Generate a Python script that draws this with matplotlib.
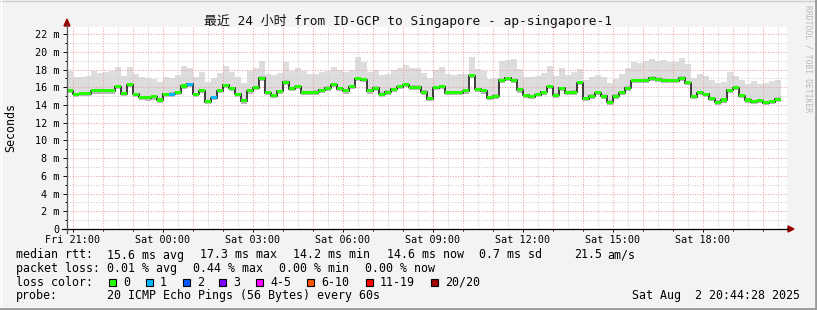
import numpy as np
import matplotlib
matplotlib.use("Agg")
import matplotlib.pyplot as plt
from matplotlib.lines import Line2D
from matplotlib.patches import Polygon, Rectangle

# median rtt per 12 min step (ms)
median = [15.61, 15.20, 15.27, 15.27, 15.58, 15.58, 15.58, 15.58, 16.06, 15.27,
          16.29, 15.20, 14.86, 14.79, 14.90, 14.56, 15.20, 15.23, 15.38, 16.14,
          16.33, 15.20, 15.61, 14.37, 14.83, 15.61, 16.21, 15.87, 15.20, 14.45,
          15.58, 15.95, 17.04, 15.38, 15.05, 15.54, 16.59, 15.84, 16.06, 15.38,
          15.38, 15.46, 15.65, 15.91, 16.29, 15.84, 15.58, 16.06, 16.96, 16.85,
          15.58, 15.91, 15.23, 15.46, 15.76, 16.06, 16.29, 16.02, 16.02, 15.46,
          14.71, 15.95, 16.06, 15.38, 15.38, 15.38, 15.58, 17.30, 15.76, 15.58,
          14.83, 15.00, 16.81, 17.00, 16.81, 15.69, 15.08, 14.93, 15.16, 15.42,
          16.06, 15.12, 15.87, 15.38, 15.46, 16.51, 14.71, 15.00, 15.38, 15.00,
          14.33, 15.00, 15.38, 15.91, 16.74, 16.74, 16.81, 17.04, 16.92, 16.81,
          16.74, 16.74, 17.04, 16.51, 14.93, 15.38, 15.20, 14.71, 14.33, 14.56,
          15.65, 15.95, 15.05, 14.56, 14.37, 14.48, 14.26, 14.37, 14.65]

# top of the smoke (slowest ping) per step (ms)
smoke_top = [17.87, 17.20, 17.20, 17.27, 17.83, 17.57, 17.68, 17.87, 18.32, 17.27,
             18.32, 17.50, 17.12, 17.00, 16.94, 16.64, 17.20, 17.00, 17.38, 18.43,
             18.20, 17.20, 17.72, 16.64, 17.00, 17.57, 18.39, 17.72, 17.20, 16.53,
             17.83, 18.13, 18.96, 17.50, 17.38, 17.57, 18.85, 17.87, 18.17, 17.80,
             17.50, 17.50, 17.72, 17.87, 18.24, 17.94, 17.72, 17.94, 19.37, 18.88,
             17.72, 17.94, 17.35, 17.46, 17.94, 18.13, 18.51, 18.13, 18.13, 17.57,
             17.00, 17.94, 18.24, 17.50, 17.38, 17.50, 17.50, 19.45, 18.02, 17.87,
             16.90, 17.00, 18.96, 19.07, 19.18, 18.02, 17.20, 17.20, 17.27, 17.57,
             18.39, 17.27, 18.13, 17.38, 17.72, 18.02, 16.81, 17.12, 17.38, 17.20,
             16.53, 16.90, 17.50, 18.13, 18.85, 18.77, 19.00, 19.15, 19.00, 19.07,
             18.88, 18.88, 19.26, 18.62, 17.00, 17.50, 17.27, 16.81, 16.53, 16.60,
             17.75, 17.27, 16.81, 16.36, 16.70, 16.36, 16.53, 16.74, 16.81]

# loss colour class per step (0 = no loss, 1 = 1/20 lost)
loss_class = [0, 0, 0, 0, 0, 0, 0, 0, 0, 0,
              0, 0, 0, 0, 0, 0, 0, 1, 0, 0,
              1, 0, 0, 0, 1, 0, 0, 0, 0, 0,
              0, 0, 0, 0, 0, 0, 0, 0, 0, 0,
              0, 0, 0, 0, 0, 0, 0, 0, 0, 0,
              0, 0, 0, 0, 0, 0, 0, 0, 0, 0,
              0, 0, 0, 0, 0, 0, 0, 0, 0, 0,
              0, 0, 0, 0, 0, 0, 0, 0, 0, 0,
              0, 0, 0, 0, 0, 0, 0, 0, 0, 0,
              0, 0, 0, 0, 0, 0, 0, 0, 0, 0,
              0, 0, 0, 0, 0, 0, 0, 0, 0, 0,
              0, 0, 0, 0, 0, 0, 0, 0, 0]

loss_labels = ["0", "1", "2", "3", "4-5", "6-10", "11-19", "20/20"]
loss_colors = ["#26ff00", "#00b8ff", "#0059ff", "#7e00ff",
               "#ff00ff", "#ff5500", "#ff0000", "#a10000"]

xtick_hours = [0, 3, 6, 9, 12, 15, 18, 21]
xtick_labels = ["Fri 21:00", "Sat 00:00", "Sat 03:00", "Sat 06:00",
                "Sat 09:00", "Sat 12:00", "Sat 15:00", "Sat 18:00"]
ytick_values = [0, 2, 4, 6, 8, 10, 12, 14, 16, 18, 20, 22]
ytick_labels = ["0"] + ["%d m" % v for v in ytick_values[1:]]

title = "最近 24 小时 from ID-GCP to Singapore - ap-singapore-1"
rtt_stats = ["15.6 ms avg", "17.3 ms max", "14.2 ms min", "14.6 ms now",
             "0.7 ms sd", "21.5", "am/s"]
loss_stats = ["0.01 % avg", "0.44 % max", "0.00 % min", "0.00 % now"]
probe_text = "20 ICMP Echo Pings (56 Bytes) every 60s"
stamp_text = "Sat Aug  2 20:44:28 2025"

W, H = 817, 310
MONO = ["DejaVu Sans Mono", "Noto Sans CJK SC"]
plt.rcParams["font.family"] = MONO


def fx(px):
    return px / W


def fy(py):
    return 1 - py / H


fig = plt.figure(figsize=(W / 100, H / 100), dpi=100, facecolor="#f3f3f3")
ax = fig.add_axes([fx(67), 81 / H, 720 / W, 202 / H])
ax.set_facecolor("white")
for s in ax.spines.values():
    s.set_visible(False)

step = 0.2  # 12 minutes in hours
n = len(median)
edges = -0.2 + step * np.arange(n + 1)
centers = edges[:-1] + step / 2
med = np.array(median)

ax.set_xlim(-0.2, 23.8)
ax.set_ylim(0, 22.8)

# smoke
ax.stairs(smoke_top, edges, baseline=med, fill=True, color="#dddddd", lw=0, zorder=1)
ax.stairs(med + 0.2, edges, baseline=med - 0.3, fill=True, color="#b8b8b8", lw=0, zorder=1.2)

# grid (hourly red, half hour grey; 2 ms red, 1 ms grey)
for h in np.arange(0, 24, 1):
    ax.axvline(h, color="#f0a0a0", lw=0.75, ls=(0, (1, 1.5)), zorder=1.5)
    ax.axvline(h + 0.5, color="#cfcfcf", lw=0.75, ls=(0, (1, 1.5)), zorder=1.4)
for v in np.arange(1, 23, 1):
    c = "#f0a0a0" if v % 2 == 0 else "#cfcfcf"
    ax.axhline(v, color=c, lw=0.75, ls=(0, (1, 1.5)), zorder=1.5 if v % 2 == 0 else 1.4)

# median line and loss-coloured bars
ax.stairs(med, edges, baseline=None, color="#202020", lw=1.2, zorder=3)
bar_colors = [loss_colors[k] for k in loss_class]
ax.bar(centers, 0.34, bottom=med - 0.17, width=step, color=bar_colors, lw=0, zorder=4)

ax.set_xticks(xtick_hours)
ax.set_xticklabels(xtick_labels, fontsize=7.3)
ax.set_xticks(np.arange(0, 24, 1), minor=True)
ax.set_yticks(ytick_values)
ax.set_yticklabels(ytick_labels, fontsize=7.3)
ax.set_yticks(np.arange(1, 23, 2), minor=True)
ax.tick_params(axis="x", which="major", length=2.5, width=0.7, pad=1.5, color="black")
ax.tick_params(axis="x", which="minor", length=1.5, width=0.7, color="black")
ax.tick_params(axis="y", which="major", length=3, width=0.7, pad=2.5, color="black")
ax.tick_params(axis="y", which="minor", length=1.5, width=0.7, color="black")

# axis lines with arrows
arrow_c = "#990000"
fig.add_artist(Line2D([fx(62), fx(788)], [fy(229), fy(229)], color="black", lw=0.9))
fig.add_artist(Line2D([fx(67), fx(67)], [fy(233), fy(25)], color="#555555", lw=0.9))
fig.add_artist(Polygon([[fx(788), fy(226)], [fx(794), fy(229)], [fx(788), fy(232)]],
                       closed=True, color=arrow_c, transform=fig.transFigure))
fig.add_artist(Polygon([[fx(64), fy(26)], [fx(67), fy(19)], [fx(70), fy(26)]],
                       closed=True, color=arrow_c, transform=fig.transFigure))

# texts
fig.text(fx(408), fy(21), title, ha="center", va="center", fontsize=9.3, color="#111111")
fig.text(fx(11), fy(127), "Seconds", rotation=90, ha="center", va="center", fontsize=8.4)
fig.text(fx(808), fy(5), "RRDTOOL / TOBI OETIKER", rotation=270, ha="center", va="top",
         fontsize=5.8, color="#b8b8b8")

fs = 8.4
rows_y = [258.5, 272, 285.5, 299]
fig.text(fx(16), fy(rows_y[0]), "median rtt:", fontsize=fs, va="baseline")
for t, xp in zip(rtt_stats, [107, 200, 293, 387, 479, 574, 607]):
    fig.text(fx(xp), fy(rows_y[0]), t, fontsize=fs, va="baseline")
fig.text(fx(16), fy(rows_y[1]), "packet loss:", fontsize=fs, va="baseline")
for t, xp in zip(loss_stats, [107, 193, 279, 365]):
    fig.text(fx(xp), fy(rows_y[1]), t, fontsize=fs, va="baseline")
fig.text(fx(16), fy(rows_y[2]), "loss color:", fontsize=fs, va="baseline")
box_x = [109, 146, 183, 219, 256, 307, 366, 431]
for lab, col, bx in zip(loss_labels, loss_colors, box_x):
    fig.add_artist(Rectangle((fx(bx), fy(286)), 7 / W, 7 / H, facecolor=col,
                             edgecolor="black", lw=0.8, transform=fig.transFigure))
    fig.text(fx(bx + 14), fy(rows_y[2]), lab, fontsize=fs, va="baseline")
fig.text(fx(16), fy(rows_y[3]), "probe:", fontsize=fs, va="baseline")
fig.text(fx(107), fy(rows_y[3]), probe_text, fontsize=fs, va="baseline")
fig.text(fx(800), fy(rows_y[3]), stamp_text, fontsize=fs, va="baseline", ha="right")

# frame
fig.add_artist(Line2D([0, 1], [fy(0.5), fy(0.5)], color="#cfcfcf", lw=1))
fig.add_artist(Line2D([fx(0.5), fx(0.5)], [0, 1], color="#ffffff", lw=1))
fig.add_artist(Line2D([0, 1], [fy(309), fy(309)], color="#9a9a9a", lw=2))
fig.add_artist(Line2D([fx(816), fx(816)], [0, 1], color="#9a9a9a", lw=2))

fig.savefig("out.png", dpi=100, facecolor=fig.get_facecolor())
